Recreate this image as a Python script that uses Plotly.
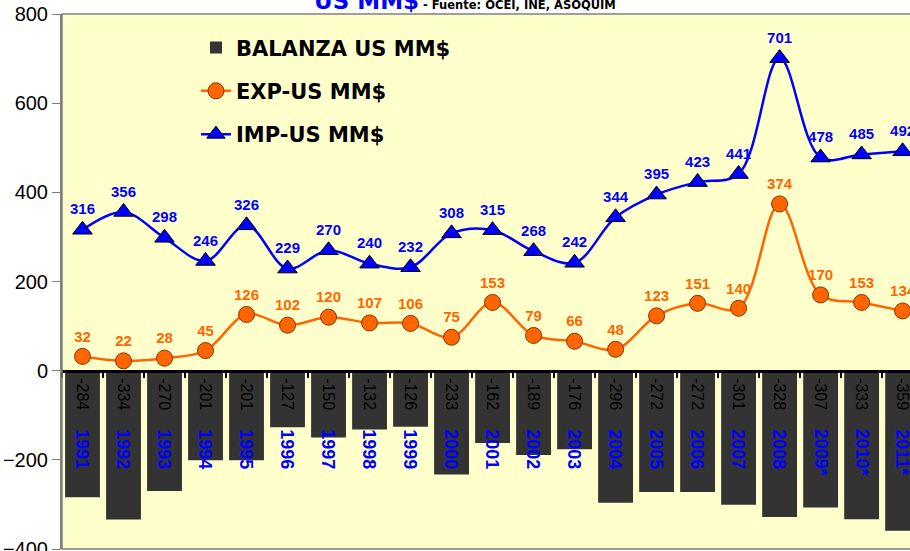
import plotly.graph_objects as go

years = ["1991","1992","1993","1994","1995","1996","1997","1998","1999","2000",
         "2001","2002","2003","2004","2005","2006","2007","2008","2009*","2010*","2011*"]
imp = [316,356,298,246,326,229,270,240,232,308,315,268,242,344,395,423,441,701,478,485,492]
exp_ = [32,22,28,45,126,102,120,107,106,75,153,79,66,48,123,151,140,374,170,153,134]
bal = [-284,-334,-270,-201,-201,-127,-150,-132,-126,-233,-162,-189,-176,-296,-272,-272,-301,-328,-307,-333,-359]

fig = go.Figure()
fig.add_trace(go.Bar(x=years, y=bal, name="BALANZA US MM$", marker_color="#333333",
                     marker_line_width=0, legendgroup="a"))
fig.add_trace(go.Scatter(x=years, y=exp_, name="EXP-US MM$", mode="lines+markers+text",
                         line=dict(color="#FF6600", width=2.5, shape="spline", smoothing=1),
                         marker=dict(symbol="circle", size=16, color="#FF6600",
                                     line=dict(color="#8B3000", width=1)),
                         text=[str(v) for v in exp_], textposition="top center",
                         textfont=dict(family="Arial", size=15, color="#FF6600", weight="bold"),
                         cliponaxis=False, legendgroup="b"))
fig.add_trace(go.Scatter(x=years, y=imp, name="IMP-US MM$", mode="lines+markers+text",
                         line=dict(color="#0000FF", width=2.5, shape="spline", smoothing=1),
                         marker=dict(symbol="triangle-up", size=17, color="#0000FF",
                                     line=dict(color="#000000", width=1)),
                         text=[str(v) for v in imp], textposition="top center",
                         textfont=dict(family="Arial", size=15, color="#0000FF", weight="bold"),
                         cliponaxis=False, legendgroup="c"))

for i, (yr, v) in enumerate(zip(years, bal)):
    fig.add_annotation(x=i, y=0, yshift=-5, text=str(v), textangle=90, showarrow=False,
                       xanchor="center", yanchor="top",
                       font=dict(family="Arial", size=16, color="#000000"))
    fig.add_annotation(x=i, y=-126, text="<b>%s</b>" % yr, textangle=90, showarrow=False,
                       xanchor="center", yanchor="top",
                       font=dict(family="Arial", size=18, color="#0000FF"))

fig.add_annotation(xref="paper", yref="paper", x=0.295, y=0.996, xanchor="left", yanchor="bottom",
                   showarrow=False,
                   text="<b><span style='font-size:23px;color:#0000FF'>US MM$</span> - Fuente: OCEI, INE, ASOQUIM</b>",
                   font=dict(family="DejaVu Sans", size=11.5, color="#000000"))

fig.update_layout(
    width=910, height=551,
    margin=dict(l=62, r=0, t=14, b=2),
    paper_bgcolor="#FFFFFF", plot_bgcolor="#FFFFCC",
    bargap=0.15,
    showlegend=True,
    legend=dict(x=0.158, y=0.975, xanchor="left", yanchor="top", bgcolor="rgba(0,0,0,0)",
                font=dict(family="DejaVu Sans", size=21, color="#000000", weight="bold"),
                tracegroupgap=13, traceorder="grouped"),
    xaxis=dict(type="category", range=[-0.5, 20.18], anchor="free", position=1/3,
               showline=True, linecolor="#000000", linewidth=3, automargin=False,
               ticks="outside", tickson="boundaries", ticklen=5, tickwidth=2, tickcolor="#000000",
               showticklabels=False, showgrid=False, zeroline=False),
    yaxis=dict(range=[-400, 800], tickvals=[-400,-200,0,200,400,600,800], automargin=False,
               showline=True, linecolor="#808080", linewidth=2, ticks="outside", ticklen=8,
               tickcolor="#808080", showgrid=False, zeroline=False, ticklabeloverflow="allow",
               tickfont=dict(family="Arial", size=20, color="#000000")),
)
fig.add_shape(type="rect", xref="paper", yref="paper", x0=0, x1=1.01, y0=0, y1=1,
              line=dict(color="#808080", width=1.5), layer="above")

fig.write_html("out.html", config={"displayModeBar": False},
               post_script="document.body.style.margin='0';")
